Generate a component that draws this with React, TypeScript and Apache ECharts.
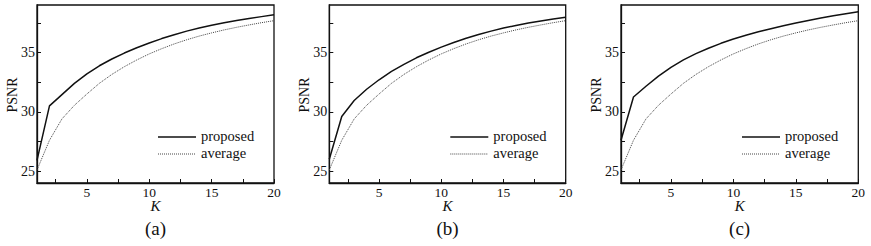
import React, { useEffect, useRef } from "react";
import * as echarts from "echarts";

const K = [1, 2, 3, 4, 5, 6, 7, 8, 9, 10, 11, 12, 13, 14, 15, 16, 17, 18, 19, 20];
const proposedA = [25.9, 30.5, 31.45, 32.4, 33.2, 33.88, 34.45, 34.95, 35.4, 35.8, 36.17, 36.5, 36.8, 37.06, 37.3, 37.5, 37.69, 37.86, 38.02, 38.18];
const proposedB = [26.0, 29.6, 30.95, 31.9, 32.7, 33.4, 34.0, 34.55, 35.02, 35.45, 35.84, 36.2, 36.52, 36.8, 37.06, 37.28, 37.48, 37.66, 37.82, 37.97];
const proposedC = [27.6, 31.25, 32.15, 33.0, 33.75, 34.38, 34.9, 35.36, 35.77, 36.13, 36.45, 36.74, 37.0, 37.25, 37.48, 37.7, 37.9, 38.09, 38.27, 38.44];
const average = [25.1, 27.6, 29.4, 30.55, 31.5, 32.4, 33.15, 33.8, 34.37, 34.88, 35.32, 35.72, 36.07, 36.38, 36.65, 36.9, 37.12, 37.32, 37.51, 37.68];
const panels = ["(a)", "(b)", "(c)"];
const proposedSets = [proposedA, proposedB, proposedC];
const xTicks = [2.5, 5, 7.5, 10, 12.5, 15, 17.5, 20];
const xLabels = [5, 10, 15, 20];
const yTicks = [25, 27.5, 30, 32.5, 35, 37.5];
const yLabels = [25, 30, 35];
const legendNames = ["proposed", "average"];

const gridLefts = [37, 329.3, 621];
const gridWidths = [237, 236.4, 237.3];
const FONT = "'Liberation Serif', 'DejaVu Serif', serif";
const INK = "#111";
const AVG_COLOR = "#444";

export default function App() {
  const ref = useRef<HTMLDivElement>(null);
  useEffect(() => {
    if (!ref.current) return;
    const chart = echarts.init(ref.current, null, { renderer: "svg" });
    const grid: any[] = [];
    const xAxis: any[] = [];
    const yAxis: any[] = [];
    const series: any[] = [];
    const graphic: any[] = [];
    panels.forEach((p, i) => {
      const left = gridLefts[i];
      const width = gridWidths[i];
      grid.push({ left, width, top: 5, height: 178, show: true, borderColor: INK, borderWidth: 1.3, backgroundColor: "transparent" });
      xAxis.push({
        type: "value", gridIndex: i, min: 1, max: 20,
        axisLine: { show: true, onZero: false, lineStyle: { color: INK, width: 1.3 } },
        axisTick: { show: true, inside: true, length: 4, customValues: xTicks, lineStyle: { color: INK, width: 1 } },
        axisLabel: { customValues: xLabels, color: INK, fontFamily: FONT, fontSize: 13.5, margin: 2 },
        splitLine: { show: false },
      });
      yAxis.push({
        type: "value", gridIndex: i, min: 24, max: 39,
        axisLine: { show: true, onZero: false, lineStyle: { color: INK, width: 1.3 } },
        axisTick: { show: true, inside: true, length: 4, customValues: yTicks, lineStyle: { color: INK, width: 1 } },
        axisLabel: { customValues: yLabels, color: INK, fontFamily: FONT, fontSize: 14, margin: 2 },
        splitLine: { show: false },
      });
      series.push({
        name: legendNames[0], type: "line", xAxisIndex: i, yAxisIndex: i, symbol: "none", showSymbol: false,
        data: K.map((k, j) => [k, proposedSets[i][j]]),
        lineStyle: { color: INK, width: 1.5, type: "solid" }, itemStyle: { color: INK },
      });
      series.push({
        name: legendNames[1], type: "line", xAxisIndex: i, yAxisIndex: i, symbol: "none", showSymbol: false,
        data: K.map((k, j) => [k, average[j]]),
        lineStyle: { color: AVG_COLOR, width: 1, type: [1, 1] }, itemStyle: { color: AVG_COLOR },
      });
      const lx = left + 121;
      graphic.push({
        type: "line", shape: { x1: lx, y1: 137, x2: lx + 38, y2: 137 },
        style: { stroke: INK, lineWidth: 1.5 },
      });
      graphic.push({
        type: "line", shape: { x1: lx, y1: 154, x2: lx + 38, y2: 154 },
        style: { stroke: AVG_COLOR, lineWidth: 1, lineDash: [1, 1] },
      });
      graphic.push({
        type: "text", x: lx + 43, y: 136,
        style: { text: legendNames[0], font: `14.5px ${FONT}`, fill: INK, align: "left", verticalAlign: "middle" },
      });
      graphic.push({
        type: "text", x: lx + 43, y: 153,
        style: { text: legendNames[1], font: `14.5px ${FONT}`, fill: INK, align: "left", verticalAlign: "middle" },
      });
      const cx = left + width / 2;
      graphic.push({
        type: "text", x: left - 25, y: 95, rotation: Math.PI / 2,
        style: { text: "PSNR", font: `14px ${FONT}`, fill: INK, align: "center", verticalAlign: "middle" },
      });
      graphic.push({
        type: "text", x: cx, y: 206,
        style: { text: "K", font: `italic 15px ${FONT}`, fill: INK, align: "center", verticalAlign: "middle" },
      });
      graphic.push({
        type: "text", x: cx, y: 228,
        style: { text: p, font: `19px ${FONT}`, fill: INK, align: "center", verticalAlign: "middle" },
      });
    });
    chart.setOption({ animation: false, backgroundColor: "#fff", grid, xAxis, yAxis, series, graphic });
    return () => chart.dispose();
  }, []);
  return <div ref={ref} style={{ position: "absolute", left: 0, top: 0, width: 871, height: 246 }} />;
}
